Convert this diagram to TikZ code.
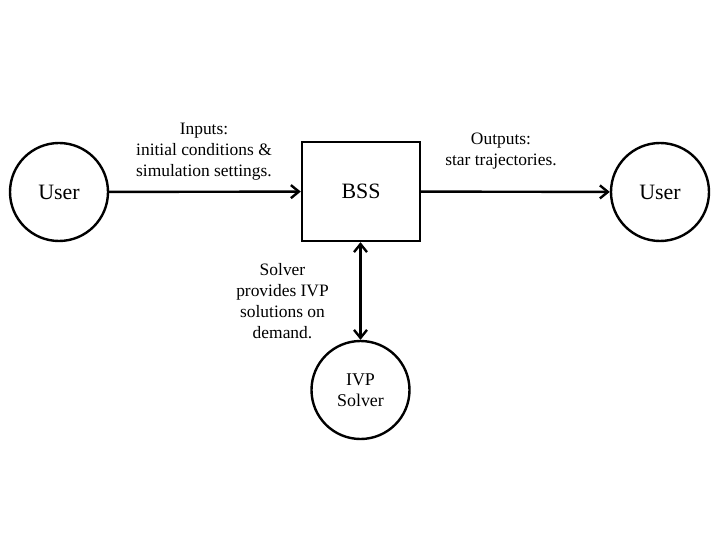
\documentclass[tikz,border=0pt]{standalone}
\usepackage{fontspec}
\setmainfont{Liberation Serif}
\usetikzlibrary{arrows.meta}
\begin{document}
\begin{tikzpicture}[x=1bp,y=-1bp,
  agent/.style={draw,line width=2.4bp,circle,minimum size=98bp,inner sep=0pt,font=\fontsize{22}{26}\selectfont},
  block/.style={draw,line width=2.4bp,minimum width=118bp,minimum height=99bp,inner sep=0pt,font=\fontsize{22}{26}\selectfont},
  note/.style={align=center,inner sep=0pt,font=\fontsize{17.5}{21}\selectfont},
  barb/.tip={Straight Barb[length=8bp,width=13bp]},
  flow/.style={line width=2.4bp,-barb}]
\useasboundingbox (0,0) rectangle (720,540);
\node[agent] (userin) at (59,192) {User};
\node[block] (bss) at (361,191.5) {BSS};
\node[agent] (userout) at (660,192) {User};
\node[agent,font=\fontsize{18}{21}\selectfont,align=center] (ivp) at (360.5,390) {IVP\\Solver};
\draw[flow] (userin) -- (bss);
\draw[flow] (bss) -- (userout);
\draw[flow,barb-barb] (bss.south -| ivp) -- (ivp);
\node[note] (lblin) at (204,152) {Inputs:\\initial conditions \&\\simulation settings.};
\node[note] (lblout) at (501,151) {Outputs:\\star trajectories.};
\node[note] (lblivp) at (282.5,301) {Solver\\provides IVP\\solutions on\\demand.};
\end{tikzpicture}
\end{document}
